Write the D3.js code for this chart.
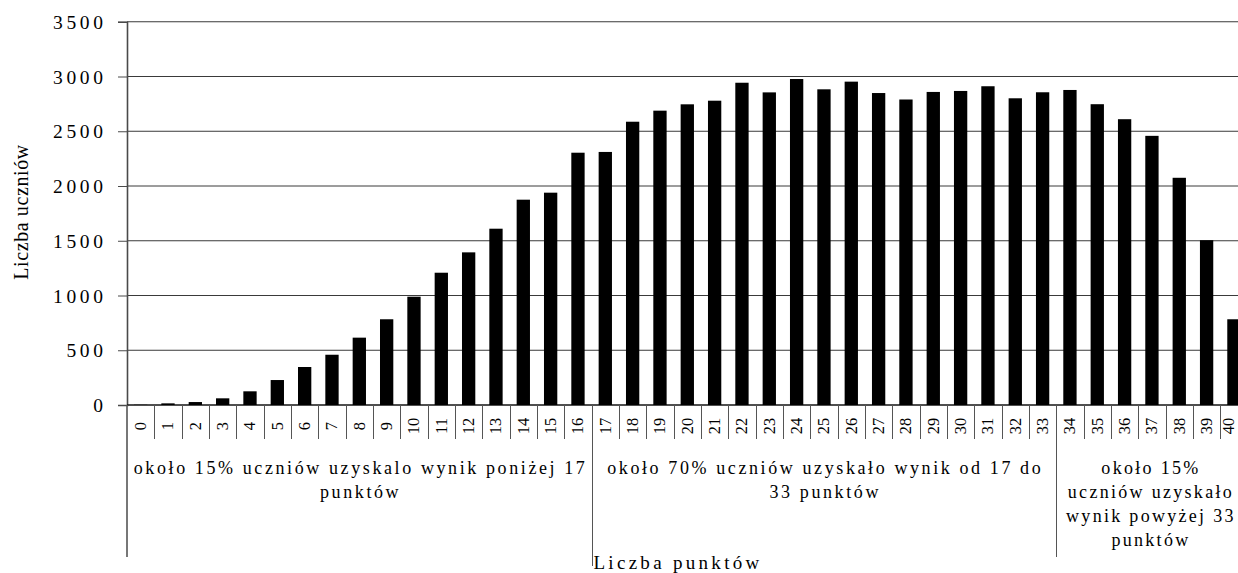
<!DOCTYPE html>
<html>
<head>
<meta charset="utf-8">
<script src="https://cdn.jsdelivr.net/npm/d3@7"></script>
<style>
  html, body { margin: 0; padding: 0; background: #fff; }
  svg { display: block; }
  text { font-family: "Liberation Serif", "Times New Roman", serif; fill: #000; }
</style>
</head>
<body>
<svg id="chart" width="1238" height="573"></svg>
<script>
// Points scored (0–40) and number of students with each score
const points = d3.range(0, 41).map(String);
const students = [
  2, 15, 27, 61, 125, 228, 347, 459, 615, 783,
  989, 1208, 1394, 1610, 1875, 1939, 2304, 2311, 2587, 2688,
  2746, 2779, 2943, 2855, 2977, 2883, 2953, 2849, 2790, 2859,
  2868, 2911, 2801, 2856, 2877, 2747, 2610, 2458, 2075, 1505,
  783
];
const yTicks = [0, 500, 1000, 1500, 2000, 2500, 3000, 3500];

// Score bands under the axis: index of the first score of each band, plus the end
const bandEdges = [0, 17, 34, 41];
const bandLabels = [
  ["około 15%  uczniów uzyskalo wynik poniżej 17", "punktów"],
  ["około 70% uczniów uzyskało wynik od 17 do", "33 punktów"],
  ["około 15%", "uczniów uzyskało", "wynik powyżej 33", "punktów"]
];

const yTitle = "Liczba uczniów";
const xTitle = "Liczba punktów";

const svg = d3.select("#chart");
const plotLeft = 127, plotRight = 1247.6, plotTop = 21.75, plotBottom = 405;

const x = d3.scaleBand().domain(points).range([plotLeft, plotRight]).paddingInner(0).paddingOuter(0);
const y = d3.scaleLinear().domain([0, 3500]).range([plotBottom, plotTop]);
const step = x.step();
const barW = x.bandwidth() * 0.487;

// Horizontal gridlines
svg.append("g")
  .selectAll("line")
  .data(yTicks)
  .join("line")
  .attr("x1", plotLeft).attr("x2", 1238)
  .attr("y1", d => y(d)).attr("y2", d => y(d))
  .attr("stroke", "#3a3a3a")
  .attr("stroke-width", 1);

// Bars
svg.append("g")
  .selectAll("rect")
  .data(students)
  .join("rect")
  .attr("x", (d, i) => x(points[i]) + (step - barW) / 2)
  .attr("width", barW)
  .attr("y", d => y(d))
  .attr("height", d => y(0) - y(d))
  .attr("fill", "#000");

// Y axis
const yAxis = d3.axisLeft(y).tickValues(yTicks).tickSize(9).tickPadding(0).tickFormat(d3.format("d"));
const yg = svg.append("g").attr("transform", `translate(${plotLeft},0)`).call(yAxis);
yg.select(".domain").attr("stroke", "#4a4a4a").attr("stroke-width", 1.6);
yg.selectAll(".tick line").attr("stroke", "#4a4a4a");
yg.selectAll(".tick text")
  .attr("x", -20.5)
  .attr("dy", "0.34em")
  .style("font-family", "'Liberation Serif', serif")
  .style("font-size", "19.5px")
  .style("letter-spacing", "3.6px")
  .attr("fill", "#000");

// X axis: category boundary ticks below the baseline
svg.append("line")
  .attr("x1", plotLeft).attr("x2", 1238)
  .attr("y1", y(0)).attr("y2", y(0))
  .attr("stroke", "#000").attr("stroke-width", 1);

svg.append("g")
  .selectAll("line")
  .data(points.slice(1))
  .join("line")
  .attr("x1", d => Math.round(x(d)) + 0.5).attr("x2", d => Math.round(x(d)) + 0.5)
  .attr("y1", y(0)).attr("y2", 439)
  .attr("stroke", "#555");

// Score labels, rotated; the last one is kept inside the frame
svg.append("g")
  .selectAll("text")
  .data(points)
  .join("text")
  .attr("transform", d => `translate(${Math.min(x(d) + step / 2 + 5.5, 1233.5)},426) rotate(-90)`)
  .attr("text-anchor", "middle")
  .style("font-size", "16.5px")
  .text(d => d);

// Band separators and band labels
svg.append("g")
  .selectAll("line")
  .data(bandEdges.slice(0, 3))
  .join("line")
  .attr("x1", d => (d === 0 ? plotLeft : Math.round(x(points[d])) + 0.5))
  .attr("x2", d => (d === 0 ? plotLeft : Math.round(x(points[d])) + 0.5))
  .attr("y1", y(0))
  .attr("y2", (d, i) => (i === 1 ? 566 : 557))
  .attr("stroke", "#555")
  .attr("stroke-width", (d, i) => (i === 0 ? 1.6 : 1));

bandLabels.forEach((lines, i) => {
  const x0 = x(points[bandEdges[i]]);
  const x1 = bandEdges[i + 1] < points.length ? x(points[bandEdges[i + 1]]) : plotRight;
  const cx = (x0 + x1) / 2;
  svg.append("text")
    .attr("text-anchor", "middle")
    .style("font-size", "18px")
    .style("letter-spacing", i === 2 ? "2.3px" : "2.6px")
    .selectAll("tspan")
    .data(lines)
    .join("tspan")
    .attr("x", i === 2 ? cx - 1 : cx + 1.3)
    .attr("y", (d, j) => 474 + j * 24)
    .text(d => d);
});

// Axis titles
svg.append("text")
  .attr("transform", "translate(28,212) rotate(-90)")
  .attr("text-anchor", "middle")
  .style("font-size", "20px")
  .style("letter-spacing", "0.6px")
  .text(yTitle);

svg.append("text")
  .attr("x", 678)
  .attr("y", 569)
  .attr("text-anchor", "middle")
  .style("font-size", "19px")
  .style("letter-spacing", "3.3px")
  .text(xTitle);
</script>
</body>
</html>
